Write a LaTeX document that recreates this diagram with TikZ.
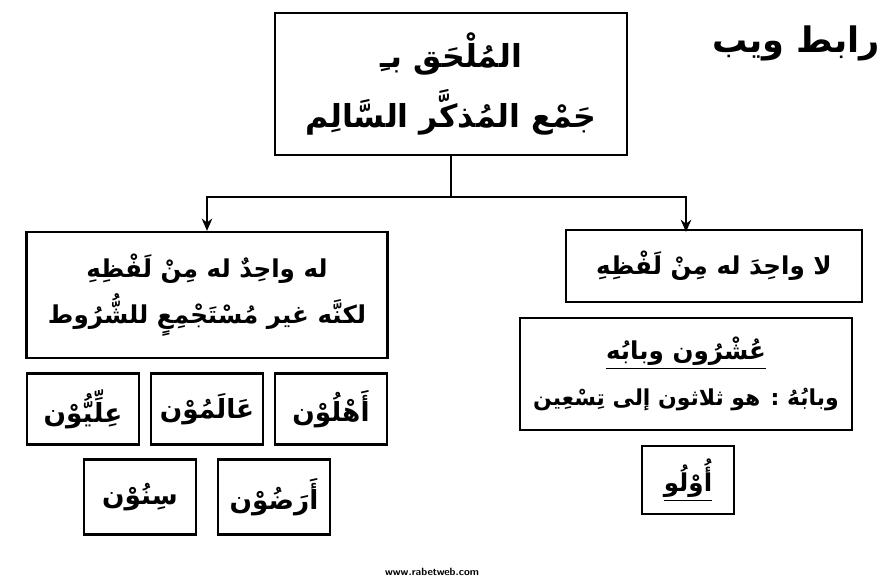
\documentclass[tikz,border=0pt]{standalone}
\usepackage{fontspec}
\newfontfamily\arabicfont[Script=Arabic]{DejaVu Sans}
\TeXXeTstate=1
\usetikzlibrary{arrows.meta}
\newcommand{\ar}[1]{\beginR #1\endR}
\tikzset{%
  box/.style      = {draw, line width=1.3pt, align=center, inner sep=0pt,%
                     font=\arabicfont\bfseries\fontsize{14}{26}\selectfont},%
  topbox/.style   = {box, font=\arabicfont\bfseries\fontsize{18}{34}\selectfont},%
  wordbox/.style  = {box, font=\arabicfont\bfseries\fontsize{15}{20}\selectfont,%
                     minimum width=2.24cm, minimum height=1.42cm},%
  link/.style     = {line width=1.1pt, -{Stealth[length=7pt,width=6pt]}}%
}
\begin{document}
\begin{tikzpicture}[x=0.02cm,y=-0.02cm]
	\useasboundingbox (0,0) rectangle (893,581);
	\node[topbox, minimum width=7.04cm, minimum height=2.84cm] (top) at (451,84)
		{\ar{المُلْحَق بـِ}\\ \ar{جَمْع المُذكَّر السَّالِم}};
	\node[box, minimum width=7.22cm, minimum height=2.52cm] (left) at (207,295)
		{\ar{له واحِدٌ له مِنْ لَفْظِهِ}\\ \ar{لكنَّه غير مُسْتَجْمِعٍ للشُّرُوط}};
	\node[box, minimum width=5.92cm, minimum height=1.44cm] (right) at (714,266)
		{\ar{لا واحِدَ له مِنْ لَفْظِهِ}};
	\node[box, minimum width=6.64cm, minimum height=2.24cm] (tens) at (686,374)
		{\underline{\ar{عُشْرُون وبابُه}}\\ {\fontsize{12.5}{26}\selectfont\ar{وبابُهُ : هو ثلاثون إلى تِسْعِين}}};
	\node[box, minimum width=1.84cm, minimum height=1.36cm] (ulu) at (688,480)
		{\underline{\ar{أُوْلُو}}};
	% word boxes
	\node[wordbox] (ahl) at (331,409) {\ar{أَهْلُوْن}};
	\node[wordbox] (alam) at (207,409) {\ar{عَالَمُوْن}};
	\node[wordbox] (illi) at (83,409) {\ar{عِلِّيُّوْن}};
	\node[wordbox, minimum height=1.5cm] (ard) at (274,497) {\ar{أَرَضُوْن}};
	\node[wordbox, minimum height=1.5cm] (sin) at (140,497) {\ar{سِنُوْن}};
	% connectors
	\coordinate (fork) at (451,197);
	\coordinate (rdrop) at (686,232);
	\draw[line width=1.1pt] (top.south) -- (fork);
	\draw[link] (fork) -| (left.north);
	\draw[link] (fork) -| (rdrop);
	% logo and address
	\node[font=\arabicfont\bfseries\fontsize{20}{24}\selectfont] (logo) at (796,43) {\ar{رابط ويب}};
	\node[font=\sffamily\bfseries\fontsize{6}{7}\selectfont] (web) at (432,572) {www.rabetweb.com};
\end{tikzpicture}
\end{document}
